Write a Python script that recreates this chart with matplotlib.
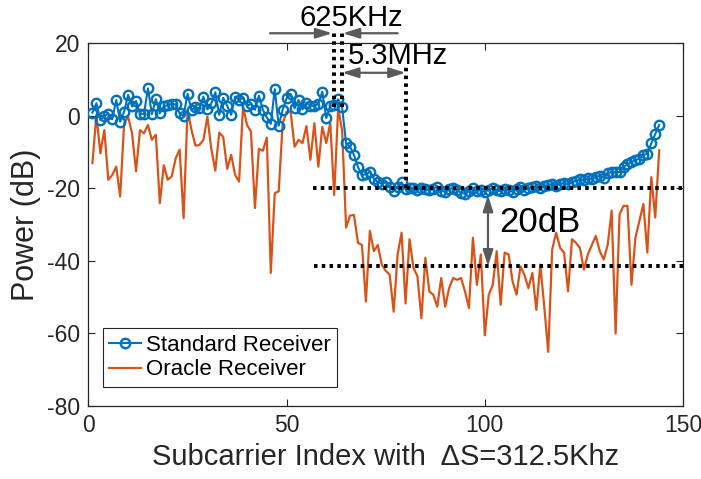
import numpy as np
import matplotlib
matplotlib.use('Agg')
import matplotlib.pyplot as plt

plt.rcParams['font.family'] = ['Liberation Sans', 'DejaVu Sans']
plt.rcParams['axes.unicode_minus'] = False

# Standard receiver power per subcarrier (dB)
standard_db = [
    0.9, 3.5, -1.1, 0.0, 0.6, -0.9, 4.4, -1.6, 1.2, 5.8,
    2.6, 4.1, 0.5, 0.5, 7.6, 0.5, 4.6, 0.7, 2.6, 3.0,
    3.3, 3.2, 0.7, 0.0, 6.1, 1.7, 2.4, 2.1, 5.3, 1.8,
    3.5, 6.5, 0.3, 5.0, 2.8, 0.3, 5.3, 4.4, 4.9, 2.8,
    3.3, 1.7, 5.6, 1.7, -0.4, -2.2, 7.4, -2.7, 1.7, 4.9,
    6.0, 2.1, 4.4, 1.8, 3.7, 2.8, 2.8, 3.3, 6.7, -0.6,
    2.8, 3.0, 4.6, 2.4, -7.6, -8.5, -10.8, -14.1, -16.4, -16.0,
    -15.5, -17.3, -18.3, -18.7, -18.3, -19.6, -20.6, -19.6, -18.3, -20.1,
    -20.0, -19.8, -20.3, -19.9, -20.2, -20.5, -20.1, -19.5, -20.6, -21.0,
    -20.2, -19.8, -20.5, -21.2, -21.5, -20.7, -20.0, -20.6, -20.4, -20.9,
    -20.3, -20.0, -20.5, -20.8, -20.2, -20.5, -20.9, -20.1, -19.7, -20.3,
    -20.0, -19.5, -19.4, -20.0, -19.3, -19.0, -18.8, -19.2, -18.7, -18.5,
    -18.9, -18.2, -17.9, -17.5, -17.8, -17.2, -17.4, -16.8, -16.5, -17.0,
    -15.8, -15.4, -15.5, -15.5, -14.1, -13.3, -12.7, -12.2, -11.8, -10.8,
    -10.4, -7.6, -5.0, -2.5,
]

# Oracle receiver power per subcarrier (dB)
oracle_db = [
    -13.0, 0.3, -10.3, -3.9, -17.6, -16.3, -14.0, -22.2, -2.0, -0.2,
    -4.8, -15.3, -3.9, -4.8, -2.5, -6.6, -5.2, -24.1, -13.6, -17.6,
    -16.7, -11.7, -9.3, -28.2, 1.7, -3.9, -8.2, -8.0, -6.6, -0.2,
    -9.1, -15.1, -4.6, -5.8, -14.6, -10.7, -16.3, -18.1, 2.6, -2.5,
    -4.3, -25.4, -9.1, -9.6, -6.0, -43.3, -21.3, -20.8, -2.0, 1.2,
    1.2, -8.5, -6.6, -7.5, -2.8, -12.1, -2.0, -14.0, -3.0, -7.5,
    -2.0, -21.8, 2.1, -4.0, -30.8, -27.5, -27.3, -35.0, -35.6, -51.2,
    -31.7, -37.3, -35.6, -41.0, -42.7, -43.8, -54.0, -38.2, -32.2, -51.7,
    -34.0, -41.9, -44.2, -55.8, -39.1, -48.4, -49.3, -52.6, -44.7, -52.6,
    -47.5, -44.7, -45.2, -44.7, -48.4, -53.0, -33.6, -46.6, -38.2, -60.5,
    -49.3, -46.6, -37.3, -52.1, -37.7, -38.2, -45.6, -49.3, -41.5, -43.8,
    -47.5, -43.3, -53.5, -41.0, -52.6, -65.1, -36.8, -32.2, -36.4, -37.7,
    -48.4, -34.0, -35.0, -36.4, -42.4, -38.2, -35.6, -33.1, -37.3, -39.6,
    -35.6, -26.1, -60.0, -27.1, -24.8, -24.8, -46.6, -33.6, -28.9, -24.3,
    -37.7, -16.9, -28.0, -9.5,
]

subcarrier = np.arange(1, len(standard_db) + 1)

x_ticks = [0, 50, 100, 150]
y_ticks = [-80, -60, -40, -20, 0, 20]

fig = plt.figure(figsize=(7.01, 4.79), dpi=100)
ax = fig.add_axes([0.1262, 0.1524, 0.8481, 0.757])

ax.plot(subcarrier, standard_db, '-o', color='#0072BD', lw=1.5,
        markersize=6.8, markerfacecolor='none', markeredgewidth=1.7,
        label='Standard Receiver', zorder=3)
ax.plot(subcarrier, oracle_db, '-', color='#D95319', lw=1.6,
        label='Oracle Receiver', zorder=2)

# dotted guide lines
dot = dict(color='black', lw=2.8, linestyle=(0, (0.9, 1.1)), zorder=4)
ax.plot([62, 62], [2.5, 23], clip_on=False, **dot)
ax.plot([64, 64], [2.5, 23], clip_on=False, **dot)
ax.plot([80, 80], [-20, 13.5], **dot)
ax.plot([56.6, 150], [-20, -20], **dot)
ax.plot([57, 150], [-41.5, -41.5], **dot)

# arrows
arrow_col = '#5a5a5a'
one = dict(arrowstyle='-|>,head_length=0.7,head_width=0.22', color=arrow_col,
           lw=1.6, shrinkA=0, shrinkB=0, mutation_scale=14)
two = dict(arrowstyle='<|-|>,head_length=0.7,head_width=0.22', color=arrow_col,
           lw=1.6, shrinkA=0, shrinkB=0, mutation_scale=14)
ax.annotate('', xy=(61.5, 22.8), xytext=(45.8, 22.8), arrowprops=one,
            annotation_clip=False)
ax.annotate('', xy=(64.2, 22.8), xytext=(78, 22.8), arrowprops=one,
            annotation_clip=False)
ax.annotate('', xy=(80, 11.9), xytext=(64, 11.9), arrowprops=two)
ax.annotate('', xy=(100.8, -41.5), xytext=(100.8, -21.8), arrowprops=two)

ax.text(66.2, 27.0, '625KHz', fontsize=21, ha='center', va='center',
        clip_on=False)
ax.text(78.0, 16.6, '5.3MHz', fontsize=21, ha='center', va='center')
ax.text(113.8, -29.4, '20dB', fontsize=25, ha='center', va='center')

ax.set_xlim(0, 150)
ax.set_ylim(-80, 20)
ax.set_xticks(x_ticks)
ax.set_yticks(y_ticks)
ax.tick_params(direction='in', top=True, right=True, length=5, width=0.8,
               labelsize=16.5, colors='#262626', pad=6)
for s in ax.spines.values():
    s.set_color('#262626')
    s.set_linewidth(0.9)

ax.set_xlabel('Subcarrier Index with  ΔS=312.5Khz', fontsize=21, color='#262626')
ax.set_ylabel('Power (dB)', fontsize=22, color='#262626')

leg = ax.legend(loc='lower left', bbox_to_anchor=(0.024, 0.052), fontsize=16,
                frameon=True, fancybox=False, framealpha=1, edgecolor='#262626',
                handlelength=1.4, handletextpad=0.25, borderpad=0.3,
                labelspacing=0.15, borderaxespad=0)
leg.get_frame().set_linewidth(0.8)

fig.savefig('out.png', dpi=100)
